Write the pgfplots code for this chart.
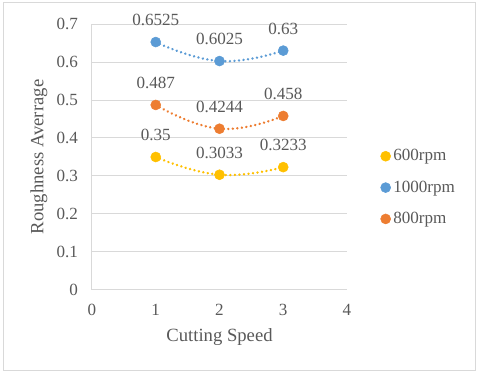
\documentclass[border=0pt]{standalone}
\usepackage{pgfplots}
\pgfplotsset{compat=1.18}
\usepackage{fontspec}
\setmainfont{Liberation Serif}
\definecolor{txt}{HTML}{595959}
\definecolor{gridc}{HTML}{D9D9D9}
\definecolor{c600}{HTML}{FFC000}
\definecolor{c1000}{HTML}{5B9BD5}
\definecolor{c800}{HTML}{ED7D31}
\begin{document}
\begin{tikzpicture}
\useasboundingbox (0,0) rectangle (360pt,280.5pt);
\draw[gridc, line width=0.75pt] (3pt,2.25pt) rectangle (357pt,278.25pt);
\begin{axis}[
  at={(69pt,63pt)}, anchor=south west, scale only axis,
  width=191.25pt, height=199.5pt,
  xmin=0, xmax=4, ymin=0, ymax=0.7,
  xtick={0,1,2,3,4}, xticklabels={0,1,2,3,4},
  ytick={0,0.1,0.2,0.3,0.4,0.5,0.6,0.7},
  yticklabels={0,0.1,0.2,0.3,0.4,0.5,0.6,0.7},
  axis x line=bottom, axis y line=left,
  axis line style={gridc, line width=0.75pt, -},
  ymajorgrids, grid style={gridc, line width=0.75pt},
  major tick length=0pt,
  /pgf/number format/assume math mode=true,
  tick label style={font=\fontsize{12.8pt}{15pt}\selectfont, text=txt},
  xticklabel style={anchor=center, yshift=-15pt},
  yticklabel style={anchor=east, xshift=-7pt},
  xlabel={Cutting Speed}, ylabel={Roughness Averrage},
  label style={font=\fontsize{14pt}{16pt}\selectfont, text=txt},
  xlabel style={at={(axis description cs:0.5,0)}, anchor=center, yshift=-35.25pt},
  ylabel style={at={(axis description cs:-0.2078,0.5)}, anchor=center},
  legend style={draw=none, fill=none, at={(axis description cs:1.131,0.385)}, anchor=west,
    font=\fontsize{12.8pt}{15pt}\selectfont, text=txt, row sep=9.5pt, inner sep=0pt},
  legend cell align=left,
  legend image code/.code={\draw[mark repeat=1,#1] plot coordinates {(0pt,0pt)};},
  trend/.style={forget plot, smooth, tension=0.8, line width=2pt, line cap=round, dash pattern=on 0.01pt off 3.4pt},
  pts/.style={only marks, mark=*, mark size=3.75pt, draw=#1, fill=#1, mark options={draw=#1, fill=#1},
    point meta=explicit symbolic, nodes near coords,
    nodes near coords style={anchor=center, yshift=16.5pt, font=\fontsize{12.8pt}{15pt}\selectfont, text=txt}},
]
\addplot[trend, c600] coordinates {(1,0.35) (2,0.3033) (3,0.3233)};
\addplot[trend, c1000] coordinates {(1,0.6525) (2,0.6025) (3,0.63)};
\addplot[trend, c800] coordinates {(1,0.487) (2,0.4244) (3,0.458)};
\addplot[pts=c600] coordinates {(1,0.35) [0.35] (2,0.3033) [0.3033] (3,0.3233) [0.3233]};
\addlegendentry{600rpm}
\addplot[pts=c1000] coordinates {(1,0.6525) [0.6525] (2,0.6025) [0.6025] (3,0.63) [0.63]};
\addlegendentry{1000rpm}
\addplot[pts=c800] coordinates {(1,0.487) [0.487] (2,0.4244) [0.4244] (3,0.458) [0.458]};
\addlegendentry{800rpm}
\end{axis}
\end{tikzpicture}
\end{document}
